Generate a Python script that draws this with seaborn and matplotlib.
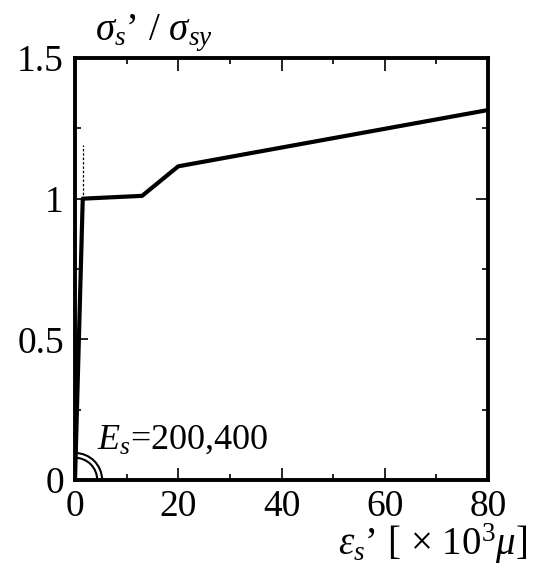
import matplotlib
matplotlib.use("Agg")
import matplotlib.pyplot as plt
import seaborn as sns
import pandas as pd
from matplotlib.patches import Arc
from matplotlib.ticker import MultipleLocator

# data
strain = [0, 1.5, 13, 20, 80]          # x 10^3 micro
stress_ratio = [0, 1.0, 1.01, 1.115, 1.315]
dash_x = [1.5, 1.5]
dash_y = [1.0, 1.19]
x_ticks = [0, 20, 40, 60, 80]
y_ticks = [0, 0.5, 1, 1.5]
y_tick_labels = ["0", "0.5", "1", "1.5"]

sns.set_theme(style="ticks")
plt.rcParams["font.family"] = ["Liberation Serif", "DejaVu Serif"]
plt.rcParams["mathtext.fontset"] = "custom"
plt.rcParams["mathtext.rm"] = "Liberation Serif"
plt.rcParams["mathtext.it"] = "Liberation Serif:italic"
plt.rcParams["mathtext.bf"] = "Liberation Serif:bold"
plt.rcParams["text.color"] = "black"

fig = plt.figure(figsize=(5.5, 5.81), dpi=100)
ax = fig.add_axes([75/550, 1-480/581, (488-75)/550, (480-58)/581])

df = pd.DataFrame({"strain": strain, "stress": stress_ratio})
sns.lineplot(data=df, x="strain", y="stress", ax=ax, color="black",
             linewidth=3.0, sort=False, estimator=None)
ax.plot(dash_x, dash_y, color="black", linewidth=0.9, linestyle=(0, (2, 1.5)))

# double arc at origin
for w, h in [(10.5, 0.192), (8.6, 0.158)]:
    ax.add_patch(Arc((0, 0), w, h, theta1=0, theta2=90, color="black",
                     linewidth=1.5, clip_on=False))

ax.text(4.3, 0.11, r"$E_s$=200,400", fontsize=26, ha="left", va="baseline",
        color="black")

ax.set_xlim(0, 80)
ax.set_ylim(0, 1.5)
ax.set_xticks(x_ticks)
ax.set_yticks(y_ticks)
ax.set_yticklabels(y_tick_labels)
ax.xaxis.set_minor_locator(MultipleLocator(10))
ax.yaxis.set_minor_locator(MultipleLocator(0.25))
ax.tick_params(which="both", direction="in", top=True, right=True,
               labelsize=27, width=1.2, color="black", labelcolor="black")
ax.tick_params(which="major", length=9)
ax.tick_params(which="minor", length=4.5)
ax.tick_params(axis="x", which="major", pad=7)
ax.tick_params(axis="y", which="major", pad=8)
ax.set_xlabel("")
ax.set_ylabel("")
for s in ax.spines.values():
    s.set_linewidth(2.8)
    s.set_color("black")

fig.text(95/550, 1-40/581, r"$\sigma_s$’ / $\sigma_{sy}$", fontsize=28,
         ha="left", va="baseline", color="black")
fig.text(527/550, 1-555/581, r"$\varepsilon_s$’ [ × 10$^3$$\mu$]", fontsize=28,
         ha="right", va="baseline", color="black")

fig.savefig("out.png", dpi=100)
